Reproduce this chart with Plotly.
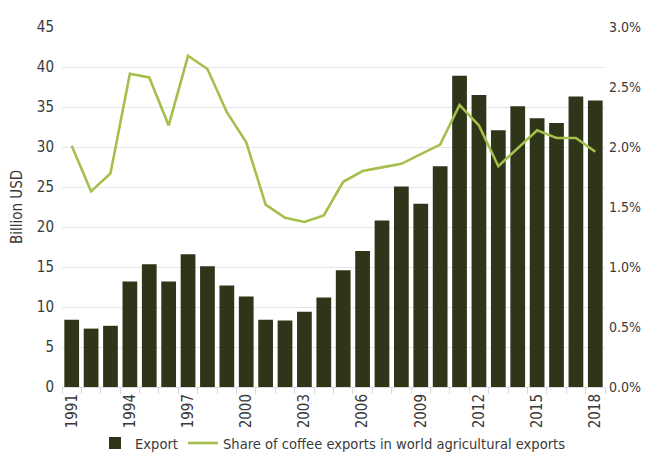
import plotly.graph_objects as go

years = list(range(1991, 2019))
export_bn = [8.4, 7.3, 7.65, 13.2, 15.35, 13.2, 16.6, 15.1, 12.7, 11.3,
             8.4, 8.3, 9.4, 11.2, 14.6, 17.0, 20.8, 25.05, 22.9, 27.6,
             38.9, 36.5, 32.1, 35.1, 33.6, 33.0, 36.3, 35.8]
share_pct = [2.01, 1.63, 1.78, 2.61, 2.58, 2.18, 2.76, 2.65, 2.29, 2.04,
             1.52, 1.41, 1.375, 1.43, 1.71, 1.80, 1.83, 1.86, 1.94, 2.02,
             2.35, 2.18, 1.84, 1.99, 2.14, 2.075, 2.075, 1.96]
left_ticks = list(range(0, 50, 5))
right_ticks = [0.0, 0.5, 1.0, 1.5, 2.0, 2.5, 3.0]
x_label_years = list(range(1991, 2019, 3))

FONT = "Liberation Sans Narrow, DejaVu Sans Condensed, Roboto, sans-serif"
TXT = "#3a3a3a"
GRID = "#e2e8e8"

fig = go.Figure()
fig.add_trace(go.Bar(x=years, y=export_bn, name="Export",
                     marker=dict(color="#2f3518", line=dict(width=0)),
                     width=0.76))
fig.add_trace(go.Scatter(x=years, y=share_pct, name="Share of coffee exports in world agricultural exports",
                         mode="lines", line=dict(color="#a4bf4b", width=2.6),
                         yaxis="y2"))

fig.update_layout(
    width=641, height=451,
    margin=dict(l=54, r=44, t=19, b=72, autoexpand=False),
    paper_bgcolor="white", plot_bgcolor="white",
    font=dict(family=FONT, size=15, color=TXT),
    showlegend=True,
    legend=dict(orientation="h", x=0.507, xanchor="center", xref="container",
                y=0.0, yanchor="bottom", yref="container",
                font=dict(size=14.6, color=TXT), itemwidth=30, tracegroupgap=0),
    xaxis=dict(range=[1990.5, 2018.5], tickmode="array", tickvals=x_label_years,
               ticktext=[str(y) for y in x_label_years], tickangle=-90,
               ticks="", showgrid=False, showline=True, linecolor="#d6dcdc",
               linewidth=1, zeroline=False, automargin=False,
               minor=dict(tickmode="array", tickvals=[y - 0.5 for y in years] + [2018.5],
                          ticks="outside", ticklen=6, tickcolor="#d6dcdc", showgrid=False)),
    yaxis=dict(range=[0, 45], tickvals=left_ticks, showgrid=True, gridcolor=GRID,
               gridwidth=1, zeroline=False, ticks="", automargin=False,
               ticklabelstandoff=7,
               title=dict(text="Billion USD", standoff=11, font=dict(size=15, color=TXT))),
    yaxis2=dict(range=[0, 3.0], tickvals=right_ticks, ticktext=[f"{v:.1f}%" for v in right_ticks],
                overlaying="y", side="right", showgrid=False, zeroline=False, ticks="",
                automargin=False, ticklabelstandoff=3, tickfont=dict(size=14)),
)

fig.write_html("out.html")
